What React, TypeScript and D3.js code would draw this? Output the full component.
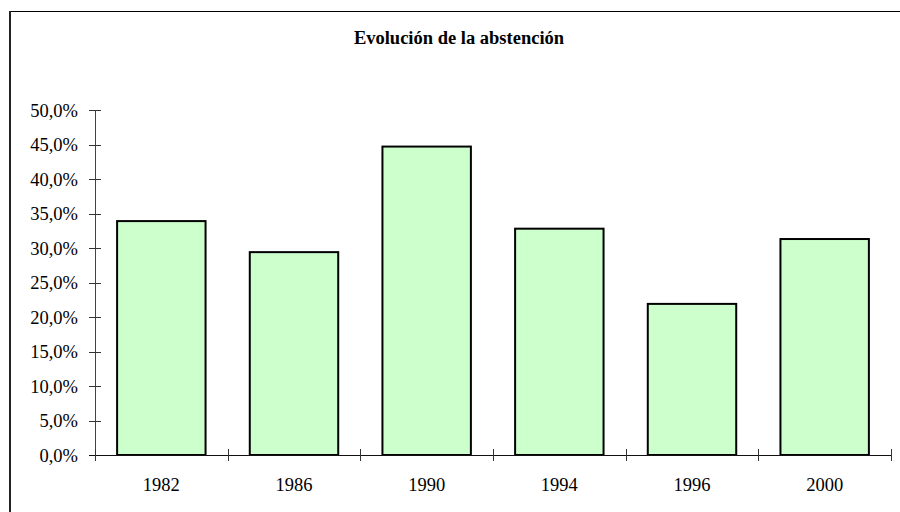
import * as d3 from 'd3'

const years = ['1982', '1986', '1990', '1994', '1996', '2000']
const abstention = [33.9, 29.4, 44.7, 32.8, 21.9, 31.3]
const yTicks = [0, 5, 10, 15, 20, 25, 30, 35, 40, 45, 50]

const W = 900
const H = 512
const FONT = '"Liberation Serif", "Times New Roman", serif'

export default function App() {
  const x = d3.scaleBand().domain(years).range([95, 891]).paddingInner(1 / 3).paddingOuter(1 / 6)
  const y = d3.scaleLinear().domain([0, 50]).range([455, 110])
  const fmt = (v: number) => v.toFixed(1).replace('.', ',') + '%'
  const step = x.step()

  return (
    <svg
      width={W}
      height={H}
      style={{ position: 'absolute', left: 0, top: 0, background: '#fff' }}
      fontFamily={FONT}
    >
      {/* chart frame, runs off the right and bottom edges */}
      <line x1={10} x2={W} y1={11.5} y2={11.5} stroke="#000" strokeWidth={1} />
      <line x1={10} x2={10} y1={11} y2={H} stroke="#222" strokeWidth={2} />

      <text x={459} y={44} textAnchor="middle" fontWeight="bold" fontSize={18.5} fill="#000">
        Evolución de la abstención
      </text>

      {/* bars */}
      {years.map((yr, i) => (
        <rect
          key={yr}
          x={x(yr)!}
          y={y(abstention[i])}
          width={x.bandwidth()}
          height={y(0) - y(abstention[i])}
          fill="#ccffcc"
          stroke="#000"
          strokeWidth={2}
        />
      ))}

      {/* y axis */}
      <line x1={95.5} x2={95.5} y1={y(50)} y2={y(0)} stroke="#444" strokeWidth={1} />
      {yTicks.map(t => (
        <g key={t}>
          <line x1={89} x2={101} y1={Math.round(y(t)) + 0.5} y2={Math.round(y(t)) + 0.5} stroke="#333" />
          <text x={78} y={y(t) + 6.5} textAnchor="end" fontSize={18.5} fill="#000">
            {fmt(t)}
          </text>
        </g>
      ))}

      {/* x axis */}
      <line x1={89} x2={891} y1={Math.round(y(0)) + 0.5} y2={Math.round(y(0)) + 0.5} stroke="#111" strokeWidth={1} />
      {d3.range(years.length + 1).map(i => {
        const px = Math.round(95 + i * step) + 0.5
        return <line key={i} x1={px} x2={px} y1={449} y2={461} stroke="#333" />
      })}
      {years.map(yr => (
        <text key={yr} x={x(yr)! + x.bandwidth() / 2} y={490.5} textAnchor="middle" fontSize={18.5} fill="#000">
          {yr}
        </text>
      ))}
    </svg>
  )
}
